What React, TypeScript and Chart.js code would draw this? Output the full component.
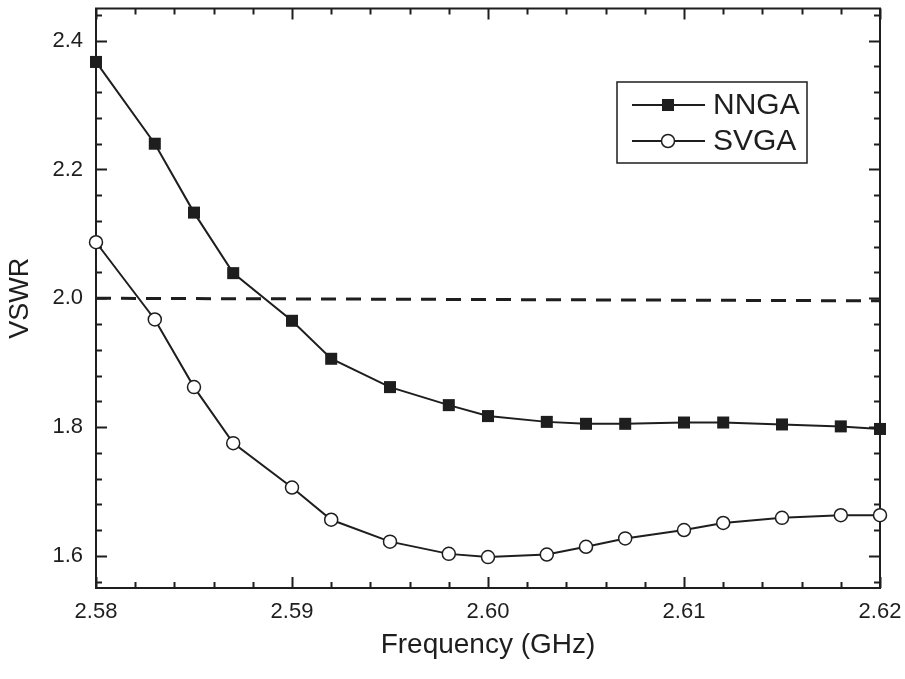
import React, { useEffect, useRef } from "react";
import { Chart, registerables } from "chart.js";

Chart.register(...registerables);

// ---- data ----
const frequencies = [2.58, 2.583, 2.585, 2.587, 2.59, 2.592, 2.595, 2.598, 2.6, 2.603, 2.605, 2.607, 2.61, 2.612, 2.615, 2.618, 2.62];
const nngaVSWR = [2.367, 2.24, 2.133, 2.039, 1.965, 1.906, 1.862, 1.834, 1.817, 1.808, 1.805, 1.805, 1.807, 1.807, 1.804, 1.801, 1.797];
const svgaVSWR = [2.087, 1.967, 1.862, 1.775, 1.706, 1.656, 1.622, 1.603, 1.598, 1.602, 1.614, 1.627, 1.64, 1.651, 1.659, 1.663, 1.663];
const thresholdX = [2.58, 2.62];
const thresholdY = [2.0, 1.996];
const seriesNames = ["NNGA", "SVGA"];
const xTickLabels = [2.58, 2.59, 2.6, 2.61, 2.62];
const yTickLabels = [1.6, 1.8, 2.0, 2.2, 2.4];
const xTitle = "Frequency (GHz)";
const yTitle = "VSWR";

const X_MIN = 2.58;
const X_MAX = 2.62;
const Y_MIN = 1.55;
const Y_MAX = 2.45;
const X_MINOR = 0.002;
const Y_MINOR = 0.04;

const INK = "#1e1e1e";
const FONT = "'Liberation Sans', Arial, Helvetica, sans-serif";

const framePlugin = {
  id: "frameTicks",
  beforeDatasetsDraw(chart: any) {
    const { ctx, chartArea } = chart;
    const { left, right, top, bottom } = chartArea;
    const xs = chart.scales.x;
    const ys = chart.scales.y;
    ctx.save();
    ctx.strokeStyle = INK;
    ctx.lineWidth = 2;
    ctx.strokeRect(left, top, right - left, bottom - top);
    const nx = Math.round((X_MAX - X_MIN) / X_MINOR);
    for (let i = 0; i <= nx; i++) {
      const v = X_MIN + i * X_MINOR;
      const px = Math.round(xs.getPixelForValue(v)) + 0.5;
      const len = i % 5 === 0 ? 11 : 6;
      ctx.beginPath();
      ctx.moveTo(px, bottom);
      ctx.lineTo(px, bottom - len);
      ctx.moveTo(px, top);
      ctx.lineTo(px, top + len);
      ctx.stroke();
    }
    const startY = Math.ceil((Y_MIN - 1e-9) / Y_MINOR);
    const endY = Math.floor((Y_MAX + 1e-9) / Y_MINOR);
    for (let k = startY; k <= endY; k++) {
      const v = k * Y_MINOR;
      const py = Math.round(ys.getPixelForValue(v)) + 0.5;
      const len = k % 5 === 0 ? 11 : 6;
      ctx.beginPath();
      ctx.moveTo(left, py);
      ctx.lineTo(left + len, py);
      ctx.moveTo(right, py);
      ctx.lineTo(right - len, py);
      ctx.stroke();
    }
    ctx.restore();
  },
};

const legendPlugin = {
  id: "boxLegend",
  afterDraw(chart: any) {
    const { ctx } = chart;
    const boxL = 617;
    const boxT = 82;
    const boxR = 807;
    const boxB = 163;
    const rows = [105, 141];
    ctx.save();
    ctx.fillStyle = "#ffffff";
    ctx.fillRect(boxL, boxT, boxR - boxL, boxB - boxT);
    ctx.strokeStyle = INK;
    ctx.lineWidth = 1.5;
    ctx.strokeRect(boxL, boxT, boxR - boxL, boxB - boxT);
    seriesNames.forEach((name, i) => {
      const ds = chart.data.datasets[i];
      const cy = rows[i];
      ctx.strokeStyle = INK;
      ctx.lineWidth = 2;
      ctx.beginPath();
      ctx.moveTo(632, cy);
      ctx.lineTo(705, cy);
      ctx.stroke();
      const cx = 668;
      if (ds.pointStyle === "rect") {
        const s = ds.pointRadius * Math.SQRT1_2;
        ctx.fillStyle = ds.pointBackgroundColor;
        ctx.fillRect(cx - s, cy - s, 2 * s, 2 * s);
      } else {
        ctx.beginPath();
        ctx.arc(cx, cy, ds.pointRadius, 0, Math.PI * 2);
        ctx.fillStyle = ds.pointBackgroundColor;
        ctx.fill();
        ctx.lineWidth = ds.pointBorderWidth;
        ctx.strokeStyle = ds.pointBorderColor;
        ctx.stroke();
      }
      ctx.fillStyle = INK;
      ctx.font = `30px ${FONT}`;
      ctx.textAlign = "left";
      ctx.textBaseline = "middle";
      ctx.fillText(name, 713, cy + 1);
    });
    ctx.restore();
  },
};

export default function App() {
  const canvasRef = useRef<HTMLCanvasElement | null>(null);

  useEffect(() => {
    const canvas = canvasRef.current;
    if (!canvas) return;
    const toPts = (ys: number[], xsArr: number[]) => ys.map((v, i) => ({ x: xsArr[i], y: v }));
    const chart = new Chart(canvas, {
      type: "line",
      data: {
        datasets: [
          {
            label: seriesNames[0],
            data: toPts(nngaVSWR, frequencies),
            borderColor: INK,
            borderWidth: 2,
            pointStyle: "rect",
            pointRadius: 8.5,
            pointBackgroundColor: INK,
            pointBorderColor: INK,
            pointBorderWidth: 0,
            tension: 0,
            clip: false,
          } as any,
          {
            label: seriesNames[1],
            data: toPts(svgaVSWR, frequencies),
            borderColor: INK,
            borderWidth: 2,
            pointStyle: "circle",
            pointRadius: 6.5,
            pointBackgroundColor: "#ffffff",
            pointBorderColor: INK,
            pointBorderWidth: 1.5,
            tension: 0,
            clip: false,
          } as any,
          {
            label: "VSWR = 2",
            data: toPts(thresholdY, thresholdX),
            borderColor: INK,
            borderWidth: 3,
            borderDash: [15, 10],
            pointRadius: 0,
            tension: 0,
          } as any,
        ],
      },
      options: {
        responsive: false,
        animation: false,
        layout: { padding: { top: 7, right: 25, left: 0, bottom: 0 } },
        plugins: {
          legend: { display: false },
          tooltip: { enabled: false },
        },
        scales: {
          x: {
            type: "linear",
            min: X_MIN,
            max: X_MAX,
            afterBuildTicks: (scale: any) => {
              scale.ticks = xTickLabels.map((v) => ({ value: v }));
            },
            afterFit: (scale: any) => {
              scale.height = 91;
              scale.paddingLeft = 0;
              scale.paddingRight = 0;
              scale.paddingTop = 0;
              scale.paddingBottom = 0;
            },
            grid: { display: false, drawTicks: false },
            border: { display: false },
            ticks: {
              padding: 11,
              color: INK,
              font: { family: FONT, size: 22 },
              maxRotation: 0,
              autoSkip: false,
              callback: (v: any) => Number(v).toFixed(2),
            },
            title: {
              display: true,
              text: xTitle,
              color: INK,
              font: { family: FONT, size: 28 },
              padding: { top: 0, bottom: 17 },
            },
          },
          y: {
            type: "linear",
            min: Y_MIN,
            max: Y_MAX,
            afterBuildTicks: (scale: any) => {
              scale.ticks = yTickLabels.map((v) => ({ value: v }));
            },
            afterFit: (scale: any) => {
              scale.width = 96;
              scale.paddingLeft = 0;
              scale.paddingRight = 0;
              scale.paddingTop = 0;
              scale.paddingBottom = 0;
            },
            grid: { display: false, drawTicks: false },
            border: { display: false },
            ticks: {
              padding: 13,
              color: INK,
              font: { family: FONT, size: 22 },
              autoSkip: false,
              callback: (v: any) => Number(v).toFixed(1),
            },
            title: {
              display: true,
              text: yTitle,
              color: INK,
              font: { family: FONT, size: 27 },
              padding: { top: 4, bottom: 0 },
            },
          },
        },
      } as any,
      plugins: [framePlugin, legendPlugin],
    });
    return () => chart.destroy();
  }, []);

  return (
    <div style={{ position: "absolute", left: 0, top: 0, width: 905, height: 679, background: "#fff" }}>
      <canvas ref={canvasRef} width={905} height={679} style={{ display: "block" }} />
    </div>
  );
}
